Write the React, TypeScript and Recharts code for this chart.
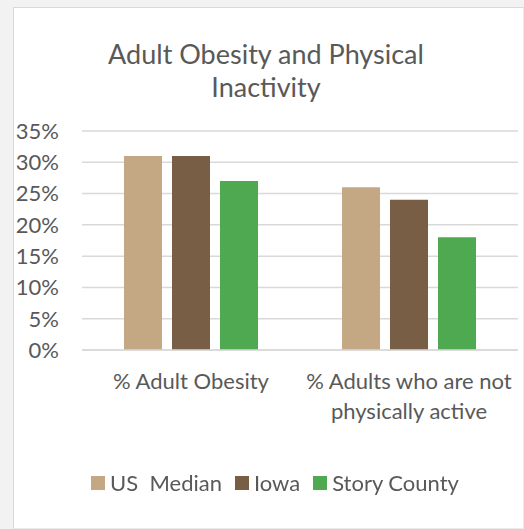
import { BarChart, Bar, XAxis, YAxis, CartesianGrid } from "recharts"

const categories = ["% Adult Obesity", "% Adults who are not physically active"]
const categoryLines = [["% Adult Obesity"], ["% Adults who are not", "physically active"]]
const usMedian = [31, 26]
const iowa = [31, 24]
const storyCounty = [27, 18]
const yTicks = [0, 5, 10, 15, 20, 25, 30, 35]

const SERIES = [
  { key: "us", name: "US  Median", color: "#C4A883" },
  { key: "iowa", name: "Iowa", color: "#785E45" },
  { key: "story", name: "Story County", color: "#4EA950" },
]

const FONT = "Lato, 'Open Sans', sans-serif"
const TEXT = "#595959"

const data = categories.map((name, i) => ({
  name,
  us: usMedian[i],
  iowa: iowa[i],
  story: storyCounty[i],
}))

function CategoryTick(props: any) {
  const { x, y, payload } = props
  const lines = categoryLines[payload.index] || [payload.value]
  return (
    <text x={x} y={y + 39} textAnchor="middle" fill={TEXT} fontSize={22} fontFamily={FONT}>
      {lines.map((l: string, i: number) => (
        <tspan key={i} x={x} dy={i === 0 ? 0 : 30}>
          {l}
        </tspan>
      ))}
    </text>
  )
}

export default function App() {
  return (
    <div style={{ position: "fixed", inset: 0, background: "#F2F2F2" }}>
      <div
        style={{
          position: "absolute",
          left: 13,
          top: 7,
          width: 509,
          height: 520,
          background: "#fff",
          borderLeft: "1px solid #D9D9D9",
          borderTop: "1px solid #D9D9D9",
          borderRight: "1px solid #EBEBEB",
          borderBottom: "1px solid #EBEBEB",
        }}
      />
      <div
        style={{
          position: "absolute",
          left: 0,
          top: 37,
          width: 532,
          textAlign: "center",
          fontFamily: FONT,
          fontSize: 27,
          lineHeight: "33px",
          color: TEXT,
        }}
      >
        Adult Obesity and Physical
        <br />
        Inactivity
      </div>
      <div style={{ position: "absolute", left: 0, top: 0 }}>
        <BarChart
          width={524}
          height={529}
          data={data}
          margin={{ top: 131, right: 6, bottom: 119, left: 0 }}
          barSize={38}
          barGap={10}
        >
          <CartesianGrid vertical={false} stroke="#D9D9D9" strokeWidth={1.5} />
          <XAxis
            dataKey="name"
            axisLine={{ stroke: "#D9D9D9", strokeWidth: 1.5 }}
            tickLine={false}
            tickSize={0}
            tickMargin={0}
            height={60}
            interval={0}
            tick={<CategoryTick />}
          />
          <YAxis
            width={82}
            domain={[0, 35]}
            ticks={yTicks}
            axisLine={false}
            tickLine={false}
            tickSize={0}
            tickMargin={23}
            tickFormatter={(v: number) => `${v}%`}
            tick={{ fill: TEXT, fontSize: 22, fontFamily: FONT }}
          />
          {SERIES.map((s) => (
            <Bar key={s.key} dataKey={s.key} name={s.name} fill={s.color} isAnimationActive={false} />
          ))}
        </BarChart>
      </div>
      <div
        style={{
          position: "absolute",
          left: 0,
          top: 469,
          width: 563,
          display: "flex",
          justifyContent: "center",
          fontFamily: FONT,
          fontSize: 22,
          lineHeight: "28px",
          color: TEXT,
        }}
      >
        {SERIES.map((s) => (
          <div key={s.key} style={{ display: "flex", alignItems: "center", marginRight: 13 }}>
            <span style={{ width: 14, height: 14, background: s.color, marginRight: 5, display: "inline-block" }} />
            <span style={{ whiteSpace: "pre" }}>{s.name}</span>
          </div>
        ))}
      </div>
    </div>
  )
}
